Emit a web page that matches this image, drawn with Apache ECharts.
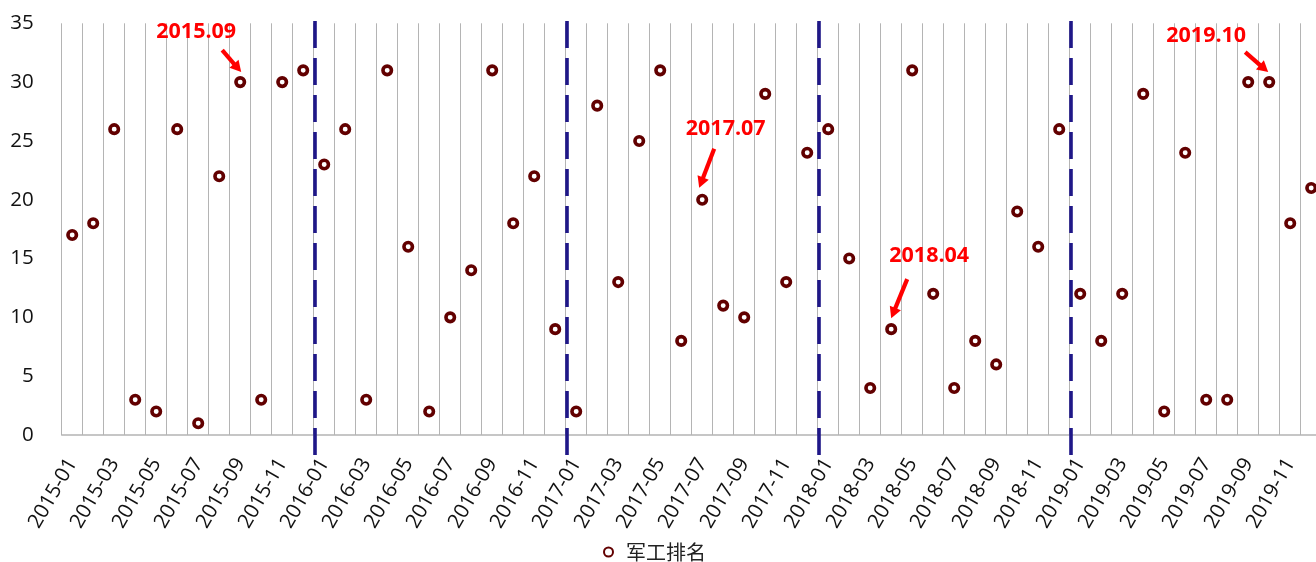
<!DOCTYPE html>
<html>
<head>
<meta charset="utf-8">
<script src="https://cdn.jsdelivr.net/npm/echarts@6/dist/echarts.min.js"></script>
<style>
html,body{margin:0;padding:0;background:#fff;}
#chart{width:1316px;height:562px;}
</style>
</head>
<body>
<div id="chart"></div>
<script>
const categories = [
 '2015-01','2015-02','2015-03','2015-04','2015-05','2015-06','2015-07','2015-08','2015-09','2015-10','2015-11','2015-12',
 '2016-01','2016-02','2016-03','2016-04','2016-05','2016-06','2016-07','2016-08','2016-09','2016-10','2016-11','2016-12',
 '2017-01','2017-02','2017-03','2017-04','2017-05','2017-06','2017-07','2017-08','2017-09','2017-10','2017-11','2017-12',
 '2018-01','2018-02','2018-03','2018-04','2018-05','2018-06','2018-07','2018-08','2018-09','2018-10','2018-11','2018-12',
 '2019-01','2019-02','2019-03','2019-04','2019-05','2019-06','2019-07','2019-08','2019-09','2019-10','2019-11','2019-12'
];
const ranks2015 = [17,18,26,3,2,26,1,22,30,3,30,31];
const ranks2016 = [23,26,3,31,16,2,10,14,31,18,22,9];
const ranks2017 = [2,28,13,25,31,8,20,11,10,29,13,24];
const ranks2018 = [26,15,4,9,31,12,4,8,6,19,16,26];
const ranks2019 = [12,8,12,29,2,24,3,3,30,30,18,21];
const ranks = [].concat(ranks2015, ranks2016, ranks2017, ranks2018, ranks2019);
const seriesName = '军工排名';
const annotationLabels = ['2015.09','2017.07','2018.04','2019.10'];
const annotationMonths = ['2015-09','2017-07','2018-04','2019-10'];
const yMin = 0, yMax = 35, yInterval = 5;

// styling: pixel offsets of annotation text/arrow relative to the annotated point
const annotationLayout = {
  '2015.09': {text:[-44,-50], tail:[-18,-32], head:[1,-10]},
  '2017.07': {text:[23.5,-71], tail:[12,-51], head:[-3,-12]},
  '2018.04': {text:[38,-73], tail:[16,-50], head:[0,-11]},
  '2019.10': {text:[-63,-46], tail:[-24,-30], head:[-1,-10]}
};

const yearBreaks = [];
categories.forEach((c, i) => { if (i > 0 && c.endsWith('-01')) yearBreaks.push(i); });

const annotationData = annotationMonths.map((m, k) => {
  const idx = categories.indexOf(m);
  return [idx, ranks[idx], annotationLabels[k]];
});

const latinFont = '"Open Sans", "Noto Sans", "Noto Sans CJK SC", sans-serif';
const cjkFont = '"Noto Sans CJK SC", "Open Sans", sans-serif';
const GRID_LEFT = 61.7, GRID_WIDTH = 1260;

const chart = echarts.init(document.getElementById('chart'), null, {renderer: 'canvas'});
chart.setOption({
  animation: false,
  backgroundColor: '#fff',
  grid: [
    {left: GRID_LEFT, width: GRID_WIDTH, top: 23.3, bottom: 127, containLabel: false, outerBoundsMode: 'none'},
    {left: GRID_LEFT + 1.2, width: GRID_WIDTH, top: 16, bottom: 107, containLabel: false, outerBoundsMode: 'none'}
  ],
  legend: {
    data: [seriesName],
    top: 537,
    left: 598,
    itemWidth: 9,
    itemHeight: 9,
    textStyle: {fontFamily: cjkFont, fontSize: 20, color: '#222', padding: [0,0,0,8]}
  },
  xAxis: [
    {
      type: 'category',
      gridIndex: 0,
      data: categories,
      boundaryGap: true,
      axisLine: {show: true, lineStyle: {color: '#b4b4b4', width: 1.5}},
      axisTick: {show: false, interval: 0},
      splitLine: {show: true, interval: 0, lineStyle: {color: '#b4b4b4', width: 1}},
      axisLabel: {
        interval: 1, rotate: 60, margin: 25,
        fontFamily: latinFont, fontSize: 20.5, color: '#111'
      }
    },
    {type: 'value', gridIndex: 1, min: 0, max: categories.length, show: false}
  ],
  yAxis: [
    {
      type: 'value', gridIndex: 0, min: yMin, max: yMax, interval: yInterval,
      axisLine: {show: false}, axisTick: {show: false}, splitLine: {show: false},
      axisLabel: {margin: 28, fontFamily: latinFont, fontSize: 20.5, color: '#111'}
    },
    {type: 'value', gridIndex: 1, min: 0, max: 1, show: false}
  ],
  series: [
    {
      name: 'yearBreaks',
      type: 'line',
      xAxisIndex: 1, yAxisIndex: 1,
      data: [],
      silent: true,
      markLine: {
        silent: true,
        symbol: ['none','none'],
        label: {show: false},
        lineStyle: {color: '#1f1788', width: 3.6, type: [27, 10], dashOffset: 0},
        emphasis: {disabled: true},
        data: yearBreaks.map(v => ({xAxis: v}))
      },
      z: 3
    },
    {
      name: seriesName,
      type: 'scatter',
      xAxisIndex: 0, yAxisIndex: 0,
      data: ranks,
      symbol: 'circle',
      symbolSize: 8.5,
      itemStyle: {color: '#fff', borderColor: '#620000', borderWidth: 3.6, opacity: 1},
      z: 5
    },
    {
      name: 'annotations',
      type: 'custom',
      xAxisIndex: 0, yAxisIndex: 0,
      clip: false,
      silent: true,
      data: annotationData,
      z: 6,
      renderItem: function (params, api) {
        const p = api.coord([api.value(0), api.value(1)]);
        const label = annotationLabels[params.dataIndex];
        const L = annotationLayout[label];
        const tx = p[0] + L.tail[0], ty = p[1] + L.tail[1];
        const hx = p[0] + L.head[0], hy = p[1] + L.head[1];
        const dx = hx - tx, dy = hy - ty;
        const len = Math.sqrt(dx*dx + dy*dy);
        const ux = dx/len, uy = dy/len;
        const headLen = 11, headW = 6;
        const bx = hx - ux*headLen, by = hy - uy*headLen;
        return {
          type: 'group',
          children: [
            {type: 'line', shape: {x1: tx, y1: ty, x2: bx + ux*1, y2: by + uy*1},
             style: {stroke: '#ff0000', lineWidth: 4.2}},
            {type: 'polygon', shape: {points: [[hx, hy], [bx - uy*headW, by + ux*headW], [bx + uy*headW, by - ux*headW]]},
             style: {fill: '#ff0000'}},
            {type: 'text', style: {
               text: label, x: p[0] + L.text[0], y: p[1] + L.text[1],
               align: 'center', verticalAlign: 'middle',
               fill: '#ff0000', fontFamily: latinFont, fontWeight: 'bold', fontSize: 21.5
             }}
          ]
        };
      }
    }
  ]
});
</script>
</body>
</html>
